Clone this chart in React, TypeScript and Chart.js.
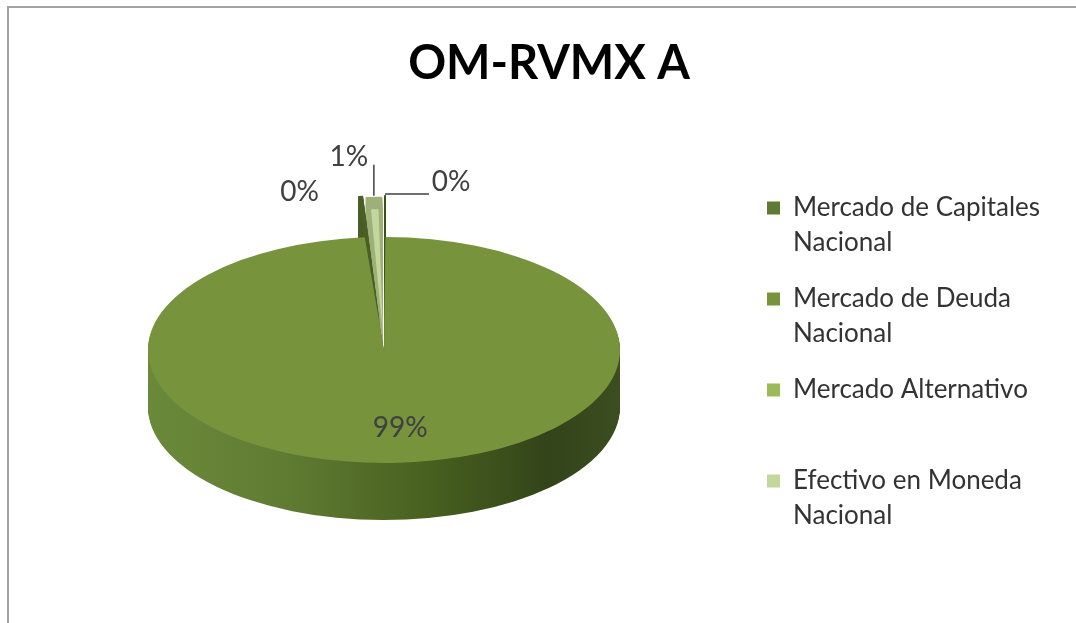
import React, { useEffect, useRef } from 'react';
import { Chart, registerables } from 'chart.js';

Chart.register(...registerables);

// ---- data ----
const titleText = 'OM-RVMX A';
const categories = [
  'Mercado de Capitales Nacional',
  'Mercado de Deuda Nacional',
  'Mercado Alternativo',
  'Efectivo en Moneda Nacional',
];
const legendLines = [
  ['Mercado de Capitales', 'Nacional'],
  ['Mercado de Deuda', 'Nacional'],
  ['Mercado Alternativo', ''],
  ['Efectivo en Moneda', 'Nacional'],
];
const shares = [0.1, 98.6, 0.3, 1.0];

// ---- styles ----
const sliceColors = ['#5E7A33', '#77933C', '#9BBB59', '#C3D69B'];
const sideColors = ['#3E5121', '', '#4A5E27', '#9DB078'];
const explode = [120, 0, 120, 120];
const FONT = 'Lato, "Open Sans", sans-serif';
const LEGEND_FONT_SIZE = 26;
const LEGEND_PAD = 21;
const LEGEND_BOX = 13;
const LEGEND_ITEMS_X = 767;
const SCREEN_CX = 384;
const SCREEN_CY = 350;
const TILT = 0.479;
const DEPTH = 57;
// label placement: leader vector from slice tip, then label offset from leader end
const leaderVec = [[44, 0], [0, 0], [0, 0], [0, -31]];
const labelVec = [[22, -12], [10, 0], [-61, -3], [-25, -8]];
const insideFraction = 0.69;

function arcGeom(el: any) {
  const off = (el.options.offset || 0) / 4;
  const circ = el.endAngle - el.startAngle;
  const fix = 1 - Math.sin(Math.min(Math.PI, circ || 0));
  const ro = off * fix;
  const half = (el.startAngle + el.endAngle) / 2;
  const shift = off + ro;
  return {
    x: el.x + Math.cos(half) * shift,
    y: el.y + Math.sin(half) * shift,
    r: el.outerRadius + ro,
    half,
  };
}

const pie3d = {
  id: 'pie3d',
  beforeDatasetsDraw(chart: any) {
    const meta = chart.getDatasetMeta(0);
    const arcs = meta.data;
    if (!arcs.length) return;
    const ctx = chart.ctx;
    const ax = arcs[0].x;
    const ay = arcs[0].y;
    const R = arcs[0].outerRadius;
    ctx.save();
    ctx.translate(SCREEN_CX, SCREEN_CY);
    ctx.scale(1, TILT);
    ctx.translate(-ax, -ay);
    const grad = ctx.createLinearGradient(ax - R, 0, ax + R, 0);
    grad.addColorStop(0, '#6B893A');
    grad.addColorStop(0.3, '#5F7B32');
    grad.addColorStop(0.6, '#47601F');
    grad.addColorStop(0.85, '#33431A');
    grad.addColorStop(1, '#3C4E20');
    const depth = DEPTH / TILT;
    const step = 1 / TILT;
    for (let d = depth; d > 0; d -= step) {
      arcs.forEach((el: any, i: number) => {
        const g = arcGeom(el);
        ctx.beginPath();
        ctx.moveTo(g.x, g.y + d);
        ctx.arc(g.x, g.y + d, g.r, el.startAngle, el.endAngle);
        ctx.closePath();
        ctx.fillStyle = sideColors[i] || grad;
        ctx.fill();
      });
    }
  },
  afterDatasetsDraw(chart: any) {
    const ctx = chart.ctx;
    ctx.restore();
    const meta = chart.getDatasetMeta(0);
    const arcs = meta.data;
    if (!arcs.length) return;
    const ax = arcs[0].x;
    const ay = arcs[0].y;
    const toScreen = (px: number, py: number) => [
      SCREEN_CX + (px - ax),
      SCREEN_CY + TILT * (py - ay),
    ];
    const total = shares.reduce((a, b) => a + b, 0);
    ctx.save();
    ctx.font = `28px ${FONT}`;
    ctx.fillStyle = '#404040';
    ctx.strokeStyle = '#404040';
    ctx.lineWidth = 1.5;
    ctx.textAlign = 'center';
    ctx.textBaseline = 'middle';
    arcs.forEach((el: any, i: number) => {
      const pct = Math.round((shares[i] / total) * 100) + '%';
      const g = arcGeom(el);
      if (!el.options.offset) {
        const [sx, sy] = toScreen(
          g.x + Math.cos(g.half) * g.r * insideFraction,
          g.y + Math.sin(g.half) * g.r * insideFraction
        );
        ctx.fillText(pct, sx + labelVec[i][0], sy + labelVec[i][1]);
        return;
      }
      const [tx, ty] = toScreen(
        g.x + Math.cos(g.half) * g.r,
        g.y + Math.sin(g.half) * g.r
      );
      const ex = tx + leaderVec[i][0];
      const ey = ty + leaderVec[i][1];
      if (leaderVec[i][0] || leaderVec[i][1]) {
        ctx.beginPath();
        ctx.moveTo(tx, ty);
        ctx.lineTo(ex, ey);
        ctx.stroke();
      }
      ctx.fillText(pct, ex + labelVec[i][0], ey + labelVec[i][1]);
    });
    ctx.restore();
  },
};

export default function App() {
  const ref = useRef<HTMLCanvasElement>(null);
  useEffect(() => {
    if (!ref.current) return;
    // measure the widest legend line so the legend box lands where wanted
    const mctx = document.createElement('canvas').getContext('2d')!;
    mctx.font = `normal ${LEGEND_FONT_SIZE}px ${FONT}`;
    let tw = 0;
    legendLines.forEach((lines) => {
      const longest = lines.reduce((a, b) => (a.length > b.length ? a : b));
      tw = Math.max(tw, mctx.measureText(longest).width);
    });
    const legendWidth = LEGEND_PAD + LEGEND_BOX + LEGEND_FONT_SIZE / 2 + tw + 10;
    const legendLeft = LEGEND_ITEMS_X - LEGEND_PAD;
    const padRight = Math.max(0, 1076 - legendLeft - legendWidth);
    const padLeft = padRight + 22;

    const chart = new Chart(ref.current, {
      type: 'pie',
      data: {
        labels: categories,
        datasets: [
          {
            data: shares,
            backgroundColor: sliceColors,
            borderWidth: 0,
            offset: explode,
            clip: false as any,
          } as any,
        ],
      },
      options: {
        animation: false,
        responsive: false,
        maintainAspectRatio: false,
        rotation: 0,
        radius: 236,
        layout: { padding: { left: padLeft, right: padRight, top: 0, bottom: 0 } },
        events: [],
        plugins: {
          tooltip: { enabled: false },
          title: {
            display: true,
            text: titleText,
            color: '#000000',
            font: { family: FONT, size: 47, weight: 'bold' },
            padding: { top: 36, bottom: 10 },
          },
          legend: {
            position: 'right',
            align: 'start',
            title: {
              display: true,
              text: ' ',
              font: { size: 10 },
              padding: { top: 162, bottom: 0 },
            },
            labels: {
              boxWidth: LEGEND_BOX,
              boxHeight: LEGEND_BOX,
              padding: LEGEND_PAD,
              color: '#333333',
              font: { family: FONT, size: LEGEND_FONT_SIZE, lineHeight: 1.346 },
              generateLabels: () =>
                legendLines.map((lines, i) => ({
                  text: lines as any,
                  fillStyle: sliceColors[i],
                  strokeStyle: sliceColors[i],
                  lineWidth: 0,
                  hidden: false,
                  index: i,
                  fontColor: '#333333',
                })),
            },
          },
        },
      } as any,
      plugins: [pie3d],
    });
    return () => chart.destroy();
  }, []);
  return (
    <div
      style={{
        position: 'fixed',
        left: 0,
        top: 0,
        width: 1076,
        height: 623,
        background: '#ffffff',
        overflow: 'hidden',
      }}
    >
      <canvas ref={ref} width={1076} height={623} style={{ display: 'block' }} />
      <div
        style={{
          position: 'absolute',
          left: 7,
          top: 6,
          width: 1067,
          height: 615,
          borderTop: '2px solid #a3a3a3',
          borderLeft: '2px solid #a3a3a3',
          pointerEvents: 'none',
        }}
      />
    </div>
  );
}
